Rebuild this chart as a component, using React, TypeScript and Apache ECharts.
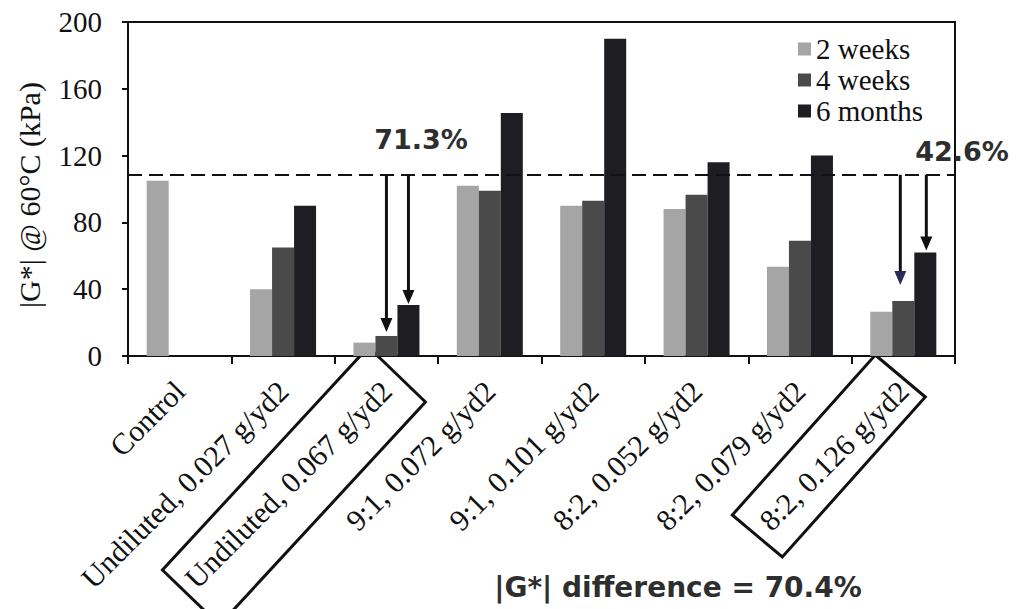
import React, { useEffect, useRef } from "react";
import * as echarts from "echarts";

const categories = [
  "Control",
  "Undiluted, 0.027 g/yd2",
  "Undiluted, 0.067 g/yd2",
  "9:1, 0.072 g/yd2",
  "9:1, 0.101 g/yd2",
  "8:2, 0.052 g/yd2",
  "8:2, 0.079 g/yd2",
  "8:2, 0.126 g/yd2",
];
const seriesNames = ["2 weeks", "4 weeks", "6 months"];
const weeks2 = [105, 40, 8, 102, 90, 88, 53.5, 26.5];
const weeks4 = [null, 65, 12, 99, 93, 96.5, 69, 33];
const months6 = [null, 90, 30.5, 145.5, 190, 116, 120, 62];
const threshold = 108.5;
const yMin = 0;
const yMax = 200;
const yInterval = 40;
const yAxisName = "|G*| @ 60°C (kPa)";
const annotation1 = "71.3%";
const annotation2 = "42.6%";
const footnote = "|G*| difference = 70.4%";

const colors = ["#a5a5a5", "#4a4a4a", "#1d1d22"];
const SERIF = "'Liberation Serif', 'Times New Roman', serif";
const SANS = "'DejaVu Sans', Verdana, sans-serif";

export default function App() {
  const ref = useRef<HTMLDivElement>(null);
  useEffect(() => {
    if (!ref.current) return;
    const chart = echarts.init(ref.current, null, { renderer: "svg" });
    const data = [weeks2, weeks4, months6];
    chart.setOption({
      animation: false,
      grid: {
        left: 128,
        top: 22,
        right: 61,
        bottom: 253,
        show: true,
        borderColor: "#111",
        borderWidth: 2,
      },
      legend: {
        orient: "vertical",
        left: 793,
        top: 29,
        itemWidth: 13,
        itemHeight: 13,
        itemGap: 1,
        icon: "rect",
        data: seriesNames,
        textStyle: {
          fontFamily: SERIF,
          fontSize: 29,
          color: "#111",
          lineHeight: 30,
        },
      },
      xAxis: {
        type: "category",
        data: categories,
        axisLine: { lineStyle: { color: "#111", width: 2 } },
        axisTick: { show: true, length: 8, lineStyle: { color: "#111", width: 2 } },
        axisLabel: {
          rotate: 45,
          interval: 0,
          margin: 30,
          fontFamily: SERIF,
          fontSize: 30,
          color: "#111",
        },
      },
      yAxis: {
        type: "value",
        min: yMin,
        max: yMax,
        interval: yInterval,
        name: yAxisName,
        nameLocation: "middle",
        nameGap: 84,
        nameRotate: 90,
        nameTextStyle: {
          fontFamily: SERIF,
          fontSize: 30,
          color: "#111",
          padding: [0, 12, 0, 0],
        },
        axisLine: { show: true, lineStyle: { color: "#111", width: 2 } },
        axisTick: { show: true, length: 6, lineStyle: { color: "#111", width: 2 } },
        axisLabel: { fontFamily: SERIF, fontSize: 29, color: "#111", margin: 26 },
        splitLine: { show: false },
      },
      series: seriesNames.map((name, i) => ({
        name,
        type: "bar",
        data: data[i],
        barWidth: 22,
        barGap: "0%",
        itemStyle: { color: colors[i] },
        markLine:
          i === 0
            ? {
                silent: true,
                symbol: "none",
                label: { show: false },
                lineStyle: { color: "#111", width: 2, type: [14, 7] },
                data: [{ yAxis: threshold }],
              }
            : undefined,
      })),
    });

    const px = (cat: number, val: number) =>
      chart.convertToPixel({ xAxisIndex: 0, yAxisIndex: 0 }, [cat, val]) as number[];

    const arrow = (x: number, yTop: number, yTip: number, color = "#111") => [
      {
        type: "line",
        shape: { x1: x, y1: yTop, x2: x, y2: yTip - 12 },
        style: { stroke: "#111", lineWidth: 3 },
      },
      {
        type: "polygon",
        shape: { points: [[x - 6, yTip - 14], [x + 6, yTip - 14], [x, yTip]] },
        style: { fill: color },
      },
    ];

    const lineY = px(0, threshold)[1];
    const c2 = px(2, 0);
    const c7 = px(7, 0);
    const axisY = c2[1];
    const elems: any[] = [];
    elems.push(...arrow(c2[0], lineY, px(2, weeks4[2] as number)[1] - 4));
    elems.push(...arrow(c2[0] + 22, lineY, px(2, months6[2] as number)[1] - 1));
    elems.push(...arrow(c7[0] - 3, lineY, px(7, weeks4[7] as number)[1] - 16, "#2a2a55"));
    elems.push(...arrow(c7[0] + 23, lineY, px(7, months6[7] as number)[1] - 2));

    const box = (ax: number, ay: number, r: number[], l: number[]) => ({
      type: "polygon",
      shape: {
        points: [
          [ax, ay],
          [ax + r[0], ay + r[1]],
          [ax + r[0] + l[0], ay + r[1] + l[1]],
          [ax + l[0], ay + l[1]],
        ],
      },
      style: { fill: "none", stroke: "#111", lineWidth: 3 },
    });
    elems.push(box(c2[0] - 18, axisY - 9, [57, 55], [-206, 223]));
    elems.push(box(c7[0] - 28, axisY - 1, [50, 42], [-143, 160]));

    const label = (x: number, y: number, text: string, size: number) => ({
      type: "text",
      x,
      y,
      style: {
        text,
        font: `bold ${size}px ${SANS}`,
        fill: "#2e2e2e",
        align: "center",
        verticalAlign: "middle",
      },
    });
    elems.push(label(421, 139, annotation1, 27));
    elems.push(label(962, 151, annotation2, 27));
    elems.push(label(678, 587, footnote, 28));
    chart.setOption({ graphic: { elements: elems } });

    return () => chart.dispose();
  }, []);
  return (
    <div
      ref={ref}
      style={{ position: "fixed", left: 0, top: 0, width: 1016, height: 609, background: "#fff" }}
    />
  );
}
